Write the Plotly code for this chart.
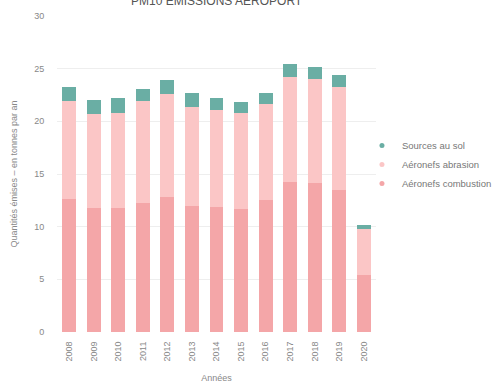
import plotly.graph_objects as go

years = ["2008", "2009", "2010", "2011", "2012", "2013", "2014", "2015", "2016", "2017", "2018", "2019", "2020"]
combustion = [12.6, 11.8, 11.8, 12.2, 12.8, 12.0, 11.9, 11.7, 12.5, 14.2, 14.1, 13.5, 5.4]
abrasion_top = [21.9, 20.7, 20.8, 21.9, 22.6, 21.4, 21.1, 20.8, 21.6, 24.2, 24.0, 23.3, 9.8]
total_top = [23.3, 22.0, 22.2, 23.1, 23.9, 22.7, 22.2, 21.8, 22.7, 25.4, 25.2, 24.4, 10.2]
title_text = "PM10 ÉMISSIONS AÉROPORT"

abrasion = [round(a - c, 2) for a, c in zip(abrasion_top, combustion)]
sources = [round(t - a, 2) for t, a in zip(total_top, abrasion_top)]

names = ["Aéronefs combustion", "Aéronefs abrasion", "Sources au sol"]
colors = ["#f4a6a8", "#fbc6c6", "#6aaea4"]

fig = go.Figure()
for name, vals, col in zip(names, [combustion, abrasion, sources], colors):
    fig.add_trace(go.Bar(x=years, y=vals, name=name, showlegend=False,
                         marker=dict(color=col, line=dict(width=0))))
# small legend markers
for name, col in zip(names, colors):
    fig.add_trace(go.Scatter(x=[None], y=[None], mode="markers", name=name,
                             marker=dict(color=col, size=5, symbol="circle")))

fig.add_annotation(text=title_text, xref="paper", yref="paper", x=0.5, y=1.05,
                   xanchor="center", yanchor="middle", showarrow=False,
                   font=dict(size=12, color="#555555"))

fig.update_layout(
    barmode="stack",
    width=503, height=383,
    margin=dict(l=57, r=127, t=16, b=51, autoexpand=False),
    paper_bgcolor="white", plot_bgcolor="white",
    bargap=0.43,
    font=dict(family="Liberation Sans, Arial, sans-serif", color="#888888", size=9),
    legend=dict(x=0.956, xanchor="left", y=0.636, yanchor="top", traceorder="reversed",
                font=dict(size=9.5, color="#777777"), itemwidth=30, bgcolor="rgba(0,0,0,0)"),
    xaxis=dict(title=dict(text="Années", font=dict(size=9, color="#888888"), standoff=15),
               tickangle=-90, tickfont=dict(size=9, color="#888888"),
               showgrid=False, showline=False, ticks="outside", ticklen=5,
               tickcolor="rgba(0,0,0,0)"),
    yaxis=dict(title=dict(text="Quantités émises – en tonnes par an", font=dict(size=9, color="#888888"), standoff=15),
               range=[0, 30], tickvals=[0, 5, 10, 15, 20, 25, 30], showgrid=True,
               gridcolor="#eeeeee", gridwidth=1, zeroline=False, ticks="outside", ticklen=10,
               tickcolor="rgba(0,0,0,0)", tickfont=dict(size=9, color="#888888")),
)

fig.write_html("out.html", config={"displayModeBar": False},
               post_script="document.body.style.margin='0';")
